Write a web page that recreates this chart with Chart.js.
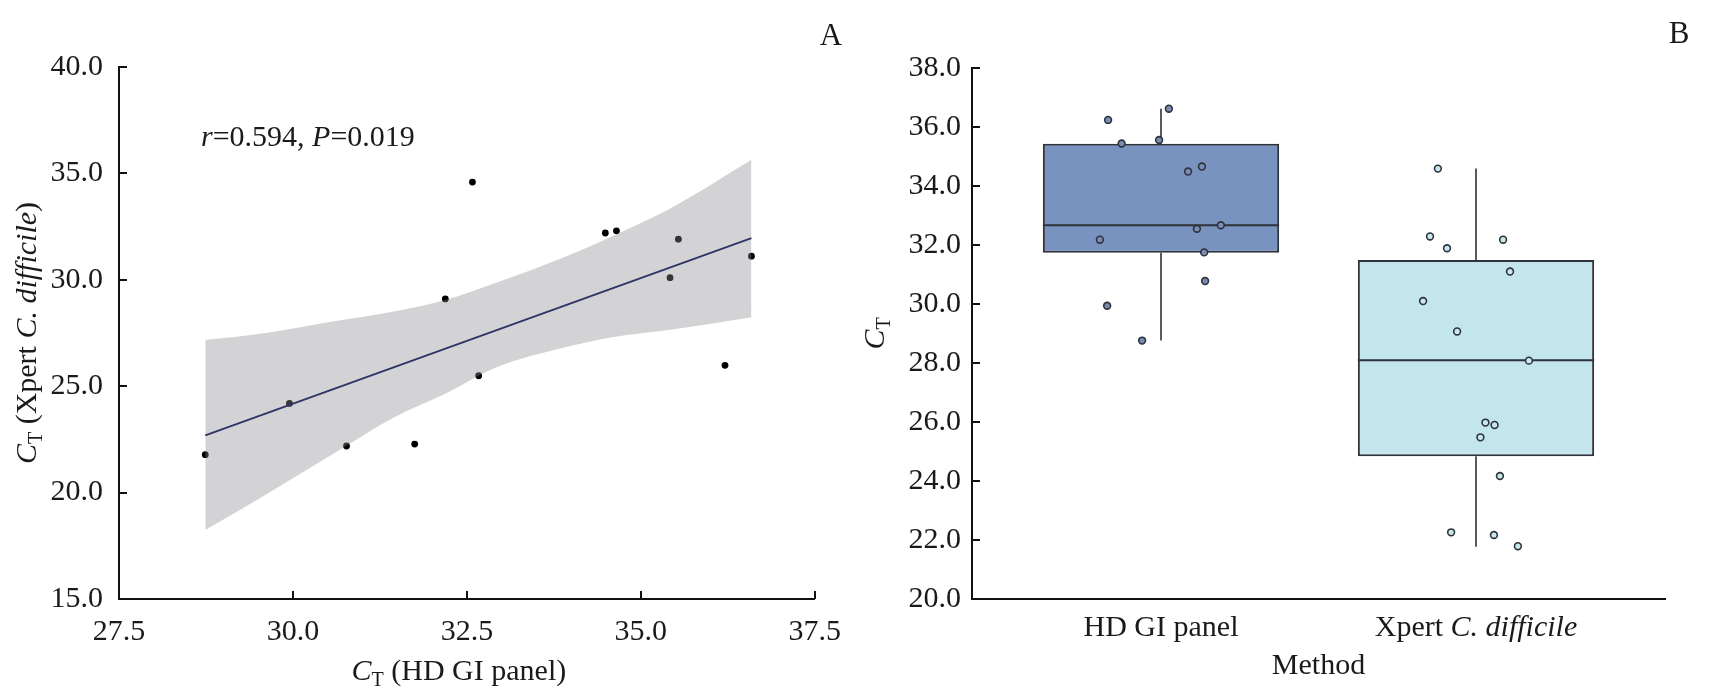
<!DOCTYPE html>
<html>
<head>
<meta charset="utf-8">
<script src="https://cdn.jsdelivr.net/npm/chart.js@4.4.0/dist/chart.umd.min.js"></script>
<style>
  html, body { margin: 0; padding: 0; background: #fff; }
  #wrap { position: relative; width: 1713px; height: 697px; overflow: hidden; }
  .panel { position: absolute; top: 0; height: 697px; }
  #panelA { left: 0; width: 856px; }
  #panelB { left: 856px; width: 857px; }
</style>
</head>
<body>
<div id="wrap">
  <div class="panel" id="panelA"><canvas id="chartA"></canvas></div>
  <div class="panel" id="panelB"><canvas id="chartB"></canvas></div>
</div>
<script>
// ---- panel A: correlation of CT values ----
const hdGiCt  = [32.58, 34.49, 34.65, 35.54, 36.59, 35.42, 32.19, 36.21, 32.67, 29.95, 28.74, 30.77, 31.75];
const xpertCt = [34.59, 32.20, 32.30, 31.91, 31.11, 30.10, 29.10, 25.98, 25.49, 24.19, 21.78, 22.19, 22.28];
const fitX = [28.74, 36.59];
const fitY = [22.69, 31.96];
const bandX     = [28.74, 29.50, 30.51, 31.47, 32.19, 32.91, 33.87, 34.59, 35.43, 36.59];
const bandUpper = [27.17, 27.45, 28.01, 28.52, 29.05, 29.85, 31.03, 32.05, 33.36, 35.64];
const bandLower = [18.24, 19.69, 21.69, 23.57, 24.65, 25.87, 26.79, 27.30, 27.65, 28.24];
const xTicksA = [27.5, 30.0, 32.5, 35.0, 37.5];
const yTicksA = [15.0, 20.0, 25.0, 30.0, 35.0, 40.0];
const statText = [{ t: 'r', i: true }, { t: '=0.594, ' }, { t: 'P', i: true }, { t: '=0.019' }];

// ---- panel B: CT by method ----
const methods = ['HD GI panel', 'Xpert C. difficile'];
const hdGiPoints  = [36.62, 36.24, 35.44, 35.56, 34.66, 34.49, 32.67, 32.55, 32.18, 31.75, 30.78, 29.94, 28.76];
const hdGiJitter  = [0.025, -0.168, -0.125, -0.006, 0.130, 0.086, 0.190, 0.114, -0.194, 0.137, 0.140, -0.171, -0.060];
const xpertPoints = [34.59, 32.29, 32.18, 31.89, 31.10, 30.10, 29.07, 28.08, 25.98, 25.90, 25.48, 24.17, 22.26, 22.17, 21.79];
const xpertJitter = [-0.121, -0.146, 0.086, -0.092, 0.108, -0.168, -0.060, 0.168, 0.030, 0.059, 0.014, 0.076, -0.079, 0.057, 0.133];
const boxMin    = [28.76, 21.77];
const boxQ1     = [31.74, 24.84];
const boxMedian = [32.67, 28.09];
const boxQ3     = [35.43, 31.49];
const boxMax    = [36.62, 34.59];
const yTicksB = [20, 22, 24, 26, 28, 30, 32, 34, 36, 38];

const FONT = '"Liberation Serif", "Times New Roman", serif';
const TEXT = '#1a1a1a';
const AXIS = '#111';
const EDGE = '#2e323a';
const BOX_WIDTH = 0.75;
const TICK_LEN = 8;

Chart.defaults.font.family = FONT;
Chart.defaults.font.size = 30;
Chart.defaults.color = TEXT;
Chart.defaults.animation = false;

// draws mixed italic / subscript text, centred (or left aligned) on cx,cy
function richText(ctx, parts, cx, cy, size, opts = {}) {
  ctx.save();
  ctx.translate(cx, cy);
  if (opts.rotate) ctx.rotate(-Math.PI / 2);
  const fontOf = p => `${p.i ? 'italic ' : ''}${p.sub ? Math.round(size * 0.66) : size}px ${FONT}`;
  let total = 0;
  const widths = parts.map(p => {
    ctx.font = fontOf(p);
    const w = ctx.measureText(p.t).width;
    total += w;
    return w;
  });
  let x = opts.align === 'left' ? 0 : -total / 2;
  const base = size * 0.34;
  ctx.fillStyle = TEXT;
  ctx.textBaseline = 'alphabetic';
  ctx.textAlign = 'left';
  parts.forEach((p, k) => {
    ctx.font = fontOf(p);
    ctx.fillText(p.t, x, base + (p.sub ? size * 0.2 : 0));
    x += widths[k];
  });
  ctx.restore();
}

const inwardTicks = {
  id: 'inwardTicks',
  afterDraw(chart, args, opts) {
    const ctx = chart.ctx;
    const { left, bottom } = chart.chartArea;
    ctx.save();
    ctx.strokeStyle = AXIS;
    ctx.lineWidth = 2;
    if (opts.x) {
      const sx = chart.scales.x;
      sx.ticks.forEach(t => {
        const px = Math.round(sx.getPixelForValue(t.value));
        ctx.beginPath(); ctx.moveTo(px, bottom); ctx.lineTo(px, bottom - TICK_LEN); ctx.stroke();
      });
    }
    const sy = chart.scales.y;
    sy.ticks.forEach(t => {
      const py = Math.round(sy.getPixelForValue(t.value));
      ctx.beginPath(); ctx.moveTo(left, py); ctx.lineTo(left + TICK_LEN, py); ctx.stroke();
    });
    ctx.restore();
  }
};

const labelsA = {
  id: 'labelsA',
  afterDraw(chart) {
    const ctx = chart.ctx;
    const ca = chart.chartArea;
    richText(ctx, [{ t: 'C', i: true }, { t: 'T', sub: true }, { t: ' (HD GI panel)' }], (ca.left + ca.right) / 2 - 8, 670, 30);
    richText(ctx, [{ t: 'C', i: true }, { t: 'T', sub: true }, { t: ' (Xpert ' }, { t: 'C. difficile', i: true }, { t: ')' }],
      26, (ca.top + ca.bottom) / 2, 30, { rotate: true });
    richText(ctx, statText, 201, 136, 30, { align: 'left' });
    richText(ctx, [{ t: 'A' }], 831, 34, 31);
  }
};

const labelsB = {
  id: 'labelsB',
  afterDraw(chart) {
    const ctx = chart.ctx;
    const ca = chart.chartArea;
    const sx = chart.scales.x;
    richText(ctx, [{ t: 'HD GI panel' }], sx.getPixelForValue(0), 626, 30);
    richText(ctx, [{ t: 'Xpert ' }, { t: 'C. difficile', i: true }], sx.getPixelForValue(1), 626, 30);
    richText(ctx, [{ t: 'Method' }], (ca.left + ca.right) / 2, 664, 30);
    richText(ctx, [{ t: 'C', i: true }, { t: 'T', sub: true }], 18, (ca.top + ca.bottom) / 2, 30, { rotate: true });
    richText(ctx, [{ t: 'B' }], 823, 32, 31);
  }
};

// ---------- chart A ----------
new Chart(document.getElementById('chartA'), {
  type: 'scatter',
  data: {
    datasets: [
      {
        type: 'line',
        data: fitX.map((x, i) => ({ x, y: fitY[i] })),
        borderColor: '#2e3466',
        borderWidth: 1.8,
        pointRadius: 0,
        order: 0
      },
      {
        type: 'line',
        data: bandX.map((x, i) => ({ x, y: bandUpper[i] })),
        borderWidth: 0,
        pointRadius: 0,
        cubicInterpolationMode: 'monotone',
        backgroundColor: 'rgba(140,140,145,0.38)',
        fill: '+1',
        order: 1
      },
      {
        type: 'line',
        data: bandX.map((x, i) => ({ x, y: bandLower[i] })),
        borderWidth: 0,
        pointRadius: 0,
        cubicInterpolationMode: 'monotone',
        fill: false,
        order: 1
      },
      {
        type: 'scatter',
        data: hdGiCt.map((x, i) => ({ x, y: xpertCt[i] })),
        backgroundColor: '#000',
        borderWidth: 0,
        pointRadius: 3.4,
        order: 2
      }
    ]
  },
  options: {
    responsive: true,
    maintainAspectRatio: false,
    layout: { padding: { left: 0, right: 41, top: 67, bottom: 0 } },
    plugins: { legend: { display: false }, tooltip: { enabled: false }, inwardTicks: { x: true } },
    scales: {
      x: {
        type: 'linear', min: 27.5, max: 37.5,
        afterBuildTicks: s => { s.ticks = xTicksA.map(v => ({ value: v })); },
        ticks: { callback: v => v.toFixed(1), padding: 15, color: TEXT, font: { size: 30 } },
        grid: { display: false, drawTicks: false },
        border: { display: true, color: AXIS, width: 2 },
        afterFit: s => { s.height = 98; }
      },
      y: {
        type: 'linear', min: 15, max: 40,
        afterBuildTicks: s => { s.ticks = yTicksA.map(v => ({ value: v })); },
        ticks: { callback: v => v.toFixed(1), padding: 16, color: TEXT, font: { size: 30 } },
        grid: { display: false, drawTicks: false },
        border: { display: true, color: AXIS, width: 2 },
        afterFit: s => { s.width = 119; }
      }
    }
  },
  plugins: [inwardTicks, labelsA]
});

// ---------- chart B ----------
const whiskerData = [];
const medianData = [];
methods.forEach((m, i) => {
  whiskerData.push({ x: i, y: boxMax[i] }, { x: i, y: boxQ3[i] }, { x: i, y: null },
                   { x: i, y: boxQ1[i] }, { x: i, y: boxMin[i] }, { x: i + 0.5, y: null });
  medianData.push({ x: i - BOX_WIDTH / 2, y: boxMedian[i] }, { x: i + BOX_WIDTH / 2, y: boxMedian[i] }, { x: i + 0.5, y: null });
});

new Chart(document.getElementById('chartB'), {
  type: 'scatter',
  data: {
    datasets: [
      {
        type: 'bar',
        data: methods.map((m, i) => ({ x: i, y: [boxQ1[i], boxQ3[i]] })),
        backgroundColor: ['#7893bf', '#c3e6ec'],
        borderColor: EDGE,
        borderWidth: 2,
        borderSkipped: false,
        barPercentage: BOX_WIDTH,
        categoryPercentage: 1,
        order: 2
      },
      {
        type: 'line',
        data: whiskerData,
        borderColor: EDGE,
        borderWidth: 1.6,
        pointRadius: 0,
        spanGaps: false,
        order: 3
      },
      {
        type: 'line',
        data: medianData,
        borderColor: EDGE,
        borderWidth: 2,
        pointRadius: 0,
        spanGaps: false,
        order: 1
      },
      {
        type: 'scatter',
        data: hdGiPoints.map((y, i) => ({ x: 0 + hdGiJitter[i], y })),
        pointBackgroundColor: '#7a8cb4',
        pointBorderColor: EDGE,
        pointBorderWidth: 1.6,
        pointRadius: 3.4,
        order: 0
      },
      {
        type: 'scatter',
        data: xpertPoints.map((y, i) => ({ x: 1 + xpertJitter[i], y })),
        pointBackgroundColor: '#c8e8ee',
        pointBorderColor: EDGE,
        pointBorderWidth: 1.6,
        pointRadius: 3.4,
        order: 0
      }
    ]
  },
  options: {
    responsive: true,
    maintainAspectRatio: false,
    layout: { padding: { left: 0, right: 48, top: 68, bottom: 0 } },
    plugins: { legend: { display: false }, tooltip: { enabled: false }, inwardTicks: { x: false } },
    scales: {
      x: {
        type: 'linear', min: -0.6, max: 1.6, offset: false,
        afterBuildTicks: s => { s.ticks = methods.map((m, i) => ({ value: i })); },
        ticks: { display: false },
        grid: { display: false, drawTicks: false, offset: false },
        border: { display: true, color: AXIS, width: 2 },
        afterFit: s => { s.height = 98; }
      },
      y: {
        type: 'linear', min: 20, max: 38,
        afterBuildTicks: s => { s.ticks = yTicksB.map(v => ({ value: v })); },
        ticks: { callback: v => v.toFixed(1), padding: 11, color: TEXT, font: { size: 30 } },
        grid: { display: false, drawTicks: false },
        border: { display: true, color: AXIS, width: 2 },
        afterFit: s => { s.width = 116; }
      }
    }
  },
  plugins: [inwardTicks, labelsB]
});
</script>
</body>
</html>
